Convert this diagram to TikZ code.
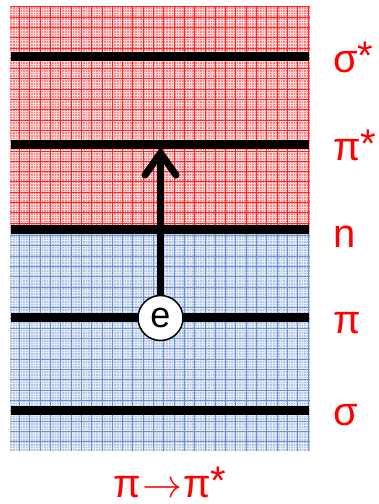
\RequirePackage{fix-cm}
\documentclass[tikz,border=0pt]{standalone}
\usepackage{fontspec}
\setmainfont{Liberation Sans}
\usetikzlibrary{arrows.meta}

\definecolor{upperfill}{RGB}{255,130,130}
\definecolor{uppergrid}{RGB}{250,40,40}
\definecolor{lowerfill}{RGB}{176,197,228}
\definecolor{lowergrid}{RGB}{108,145,204}

\tikzset{
  level/.style={line width=9pt},
  orbital/.style={text=red, font=\fontsize{40}{44}\selectfont, anchor=base west, inner sep=0pt},
}

\begin{document}
\begin{tikzpicture}[x=1pt, y=-1pt]
                \useasboundingbox (0,0) rectangle (379,504);

                % the two bands
                \fill[upperfill] (10,6) rectangle (310,232);
                \fill[lowerfill] (10,232) rectangle (310,451);

                % fine texture
                \foreach \x in {12.1,14.7,...,310} {
                    \draw[uppergrid!18, line width=0.25pt] (\x,6) -- (\x,232);
                    \draw[lowergrid!18, line width=0.25pt] (\x,232) -- (\x,451);
                }
                \foreach \y in {9.3,11.9,...,232} \draw[uppergrid!18, line width=0.25pt] (10,\y) -- (310,\y);
                \foreach \y in {232.8,235.4,...,451} \draw[lowergrid!18, line width=0.25pt] (10,\y) -- (310,\y);

                % major grid
                \foreach \x in {19.5,29.8,...,310} {
                    \draw[uppergrid, line width=0.8pt] (\x,6) -- (\x,232);
                    \draw[lowergrid, line width=0.8pt] (\x,232) -- (\x,451);
                }
                \foreach \y in {6.7,17,...,232} \draw[uppergrid, line width=0.8pt] (10,\y) -- (310,\y);
                \foreach \y in {235.5,245.8,...,451} \draw[lowergrid, line width=0.8pt] (10,\y) -- (310,\y);

                % levels
                \draw[level] (11,56) -- (309,56);
                \draw[level] (11,144) -- (309,144);
                \draw[level] (11,229) -- (309,229);
                \draw[level] (11,317) -- (309,317);
                \draw[level] (11,410) -- (309,410);

                \node[orbital] (sigmastar) at (333,72) {σ\raisebox{3pt}{*}};
                \node[orbital] (pistar) at (333,160) {π\raisebox{3pt}{*}};
                \node[orbital] (nonbond) at (333,247) {n};
                \node[orbital] (pi) at (333,333) {π};
                \node[orbital] (sigma) at (333,425) {σ};

                % electron and its jump
                \node[circle, draw, line width=1.5pt, fill=white, minimum size=45pt, inner sep=0pt,
                      font=\fontsize{36}{40}\selectfont] (e) at (160.5,318) {e};
                \coordinate (top) at (160.5,147);
                \draw[line width=7pt, -{Straight Barb[length=22pt, width=31pt, line cap=round]}] (e) -- (top);

                \node[orbital, anchor=base] (trans) at (170,497) {π\kern1pt$\rightarrow$\kern1ptπ\raisebox{3pt}{*}};
            \end{tikzpicture}
\end{document}
